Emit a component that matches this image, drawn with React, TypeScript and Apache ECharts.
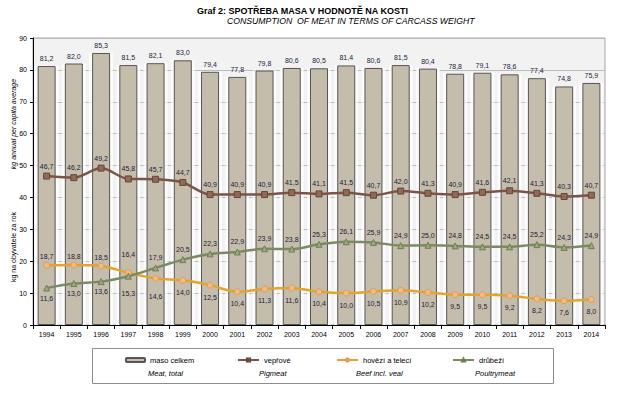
import React, { useEffect, useRef } from "react";
import * as echarts from "echarts";

const years = ["1994","1995","1996","1997","1998","1999","2000","2001","2002","2003","2004","2005","2006","2007","2008","2009","2010","2011","2012","2013","2014"];
const total = [81.2,82.0,85.3,81.5,82.1,83.0,79.4,77.8,79.8,80.6,80.5,81.4,80.6,81.5,80.4,78.8,79.1,78.6,77.4,74.8,75.9];
const pork = [46.7,46.2,49.2,45.8,45.7,44.7,40.9,40.9,40.9,41.5,41.1,41.5,40.7,42.0,41.3,40.9,41.6,42.1,41.3,40.3,40.7];
const beef = [18.7,18.8,18.5,16.4,14.6,14.0,12.5,10.4,11.3,11.6,10.4,10.0,10.5,10.9,10.2,9.5,9.5,9.2,8.2,7.6,8.0];
const poultry = [11.6,13.0,13.6,15.3,17.9,20.5,22.3,22.9,23.9,23.8,25.3,26.1,25.9,24.9,25.0,24.8,24.5,24.5,25.2,24.3,24.9];

const namesCz = ["maso celkem", "vepřové", "hovězí a telecí", "drůbeží"];
const namesEn = ["Meat, total", "Pigmeat", "Beef incl. veal", "Poultrymeat"];
const yTicks = { min: 0, max: 90, interval: 10 };

const FONT = "'Liberation Sans', Arial, sans-serif";
const LABEL_COLOR = "#1c1c3a";
const fmt = (v: number) => v.toFixed(1).replace(".", ",");

export default function App() {
  const ref = useRef<HTMLDivElement>(null);
  useEffect(() => {
    document.body.style.margin = "0";
    const chart = echarts.init(ref.current!, null, { renderer: "svg" });
    const baseLabel = { show: true, fontSize: 7, color: LABEL_COLOR, fontFamily: FONT, formatter: (p: any) => fmt(p.value) };
    const beefData = beef.map((v, i) => ({
      value: v,
      label: { position: i < 4 ? "top" : "bottom", distance: i === 3 || i === 4 ? 11 : i < 4 ? 2 : 5 },
    }));
    const poultryData = poultry.map((v, i) => ({
      value: v,
      label: { position: i < 4 ? "bottom" : "top", distance: i === 3 ? 10 : 3 },
    }));
    const legendX = [125, 237, 336, 452];
    const enX = [148, 259, 356, 475];
    chart.setOption({
      animation: false,
      backgroundColor: "#ffffff",
      textStyle: { fontFamily: FONT },
      title: [
        { text: "Graf 2: SPOTŘEBA MASA V HODNOTĚ NA KOSTI", left: 197, top: 6, padding: 0,
          textStyle: { fontSize: 9, fontWeight: "bold", color: "#000", fontFamily: FONT } },
        { text: "CONSUMPTION  OF MEAT IN TERMS OF CARCASS WEIGHT", left: 227, top: 16, padding: 0,
          textStyle: { fontSize: 8.7, fontWeight: "normal", fontStyle: "italic", color: "#000", fontFamily: FONT } },
      ],
      legend: namesCz.map((n, i) => ({
        data: [n], left: legendX[i], top: 356, padding: 0,
        itemWidth: i === 0 ? 19 : 21, itemHeight: 4,
        selectedMode: false,
        textStyle: { fontSize: 7.5, color: "#000", fontFamily: FONT },
      })),
      graphic: [
        { type: "rect", left: 92, top: 348, shape: { width: 461, height: 35 }, style: { fill: "#fff", stroke: "#8c8c8c", lineWidth: 1 }, z: -1 },
        ...namesEn.map((t, i) => ({
          type: "text", x: enX[i], y: 373,
          style: { text: t, fontSize: 7.5, fontStyle: "italic", fill: "#000", fontFamily: FONT, verticalAlign: "middle" },
        })),
        { type: "text", x: 13, y: 124, rotation: Math.PI / 2,
          style: { text: "kg annual per capita average", fontSize: 7, fontStyle: "italic", fill: "#000", fontFamily: FONT, align: "center", verticalAlign: "middle" } },
        { type: "text", x: 13, y: 247, rotation: Math.PI / 2,
          style: { text: "kg na obyvatele za rok", fontSize: 7, fill: "#000", fontFamily: FONT, align: "center", verticalAlign: "middle" } },
      ],
      grid: { left: 33, right: 26, top: 38, bottom: 82, show: true, backgroundColor: "#f2f2f2", borderColor: "#a6a6a6", borderWidth: 1 },
      xAxis: [
        {
          type: "category", data: years, boundaryGap: true,
          axisLine: { lineStyle: { color: "#000", width: 1 } },
          axisTick: { show: true, length: 4, lineStyle: { color: "#000" } },
          axisLabel: { fontSize: 7, color: "#000", margin: 6, fontFamily: FONT },
        },
        { type: "category", data: years, boundaryGap: true, show: false },
      ],
      yAxis: {
        type: "value", min: yTicks.min, max: yTicks.max, interval: yTicks.interval,
        axisLine: { show: true, lineStyle: { color: "#000", width: 1 } },
        axisTick: { show: true, length: 3, lineStyle: { color: "#000" } },
        axisLabel: { fontSize: 7, color: "#000", margin: 6, fontFamily: FONT },
        splitLine: { show: true, lineStyle: { color: "#bcbcbc", width: 1 } },
      },
      series: [
        {
          name: "stín", type: "bar", data: total, xAxisIndex: 1, barWidth: "88%",
          itemStyle: { color: "rgba(255,255,255,0.75)" },
          silent: true, z: 0,
        },
        {
          name: namesCz[0], type: "bar", data: total, barWidth: 18,
          itemStyle: { color: "#c5bdab", borderColor: "#555", borderWidth: 1 },
          label: { ...baseLabel, position: "top", distance: 4 },
          z: 1,
        },
        {
          name: namesCz[1], type: "line", data: pork, smooth: 0.3,
          symbol: "rect", symbolSize: 6,
          lineStyle: { color: "#7a5444", width: 2.5 },
          itemStyle: { color: "#8d6a5c", borderColor: "#6b4535", borderWidth: 1 },
          label: { ...baseLabel, position: "top", distance: 3 },
          z: 3,
        },
        {
          name: namesCz[2], type: "line", data: beefData, smooth: 0.3,
          symbol: "circle", symbolSize: 6,
          lineStyle: { color: "#e2a42c", width: 2.5 },
          itemStyle: { color: "#f2b98c", borderColor: "#e39a50", borderWidth: 1 },
          label: { ...baseLabel },
          z: 3,
        },
        {
          name: namesCz[3], type: "line", data: poultryData, smooth: 0.3,
          symbol: "triangle", symbolSize: 6,
          lineStyle: { color: "#7b8a62", width: 2.5 },
          itemStyle: { color: "#9aaa80", borderColor: "#6e7e56", borderWidth: 1 },
          label: { ...baseLabel },
          z: 3,
        },
      ],
    });
    return () => chart.dispose();
  }, []);
  return <div ref={ref} style={{ position: "absolute", left: 0, top: 0, width: 631, height: 407 }} />;
}
